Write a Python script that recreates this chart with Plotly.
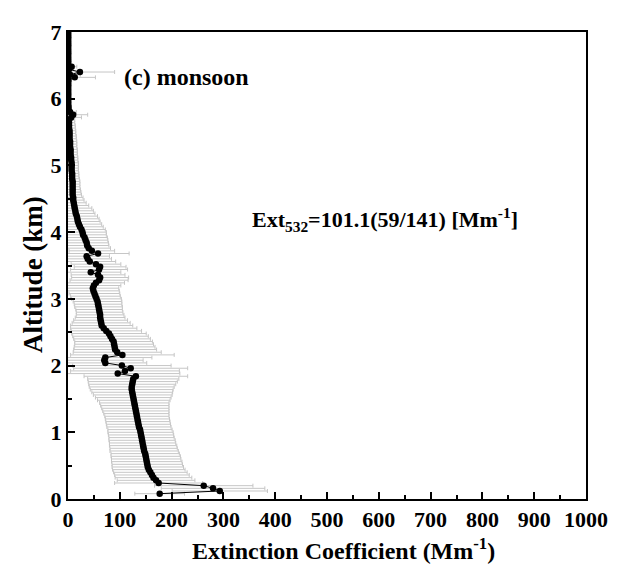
import plotly.graph_objects as go

# Altitude grid (km)
altitude_km = [
    0.08, 0.12, 0.16, 0.20, 0.24, 0.28, 0.32, 0.36, 0.40, 0.44,
    0.48, 0.52, 0.56, 0.60, 0.64, 0.68, 0.72, 0.76, 0.80, 0.84,
    0.88, 0.92, 0.96, 1.00, 1.04, 1.08, 1.12, 1.16, 1.20, 1.24,
    1.28, 1.32, 1.36, 1.40, 1.44, 1.48, 1.52, 1.56, 1.60, 1.64,
    1.68, 1.72, 1.76, 1.80, 1.84, 1.88, 1.92, 1.96, 2.00, 2.04,
    2.08, 2.12, 2.16, 2.20, 2.24, 2.28, 2.32, 2.36, 2.40, 2.44,
    2.48, 2.52, 2.56, 2.60, 2.64, 2.68, 2.72, 2.76, 2.80, 2.84,
    2.88, 2.92, 2.96, 3.00, 3.04, 3.08, 3.12, 3.16, 3.20, 3.24,
    3.28, 3.32, 3.36, 3.40, 3.44, 3.48, 3.52, 3.56, 3.60, 3.64,
    3.68, 3.72, 3.76, 3.80, 3.84, 3.88, 3.92, 3.96, 4.00, 4.04,
    4.08, 4.12, 4.16, 4.20, 4.24, 4.28, 4.32, 4.36, 4.40, 4.44,
    4.48, 4.52, 4.56, 4.60, 4.64, 4.68, 4.72, 4.76, 4.80, 4.84,
    4.88, 4.92, 4.96, 5.00, 5.04, 5.08, 5.12, 5.16, 5.20, 5.24,
    5.28, 5.32, 5.36, 5.40, 5.44, 5.48, 5.52, 5.56, 5.60, 5.64,
    5.68, 5.72, 5.76, 5.80, 5.84, 5.88, 5.92, 5.96, 6.00, 6.04,
    6.08, 6.12, 6.16, 6.20, 6.24, 6.28, 6.32, 6.36, 6.40, 6.44,
    6.48, 6.52, 6.56, 6.60, 6.64, 6.68, 6.72, 6.76, 6.80, 6.84,
    6.88, 6.92, 6.96, 7.00,
]

# Mean extinction coefficient (Mm^-1)
extinction = [
    177, 293, 280, 262, 175, 170, 165, 162, 159, 156,
    154, 153, 152, 151, 150, 149, 147, 146, 145, 144,
    143, 142, 141, 140, 139, 137, 136, 135, 134, 133,
    132, 131, 130, 129, 128, 127, 126, 125, 124, 123,
    123, 124, 125, 126, 131, 96, 110, 121, 104, 72,
    70, 72, 105, 95, 91, 90, 89, 88, 85, 82,
    79, 74, 69, 65, 64, 63, 62, 62, 61, 60,
    59, 58, 57, 55, 53, 51, 49, 48, 50, 54,
    60, 62, 58, 44, 60, 62, 54, 42, 38, 36,
    58, 46, 40, 37, 36, 34, 32, 29, 28, 26,
    23, 21, 19, 18, 17, 15, 14, 13, 12, 11,
    10, 10, 9, 9, 9, 9, 9, 9, 8, 8,
    8, 7, 7, 7, 7, 6, 6, 5, 5, 5,
    4, 4, 4, 3, 3, 3, 3, 2, 2, 2,
    2, 6, 10, 4, 1, 1, 0.5, 0.5, 0.5, 0.5,
    0.5, 0.5, 0.5, 0.5, 0.5, 1, 13, 4, 23, 2,
    7, 0.5, 0.5, 0.5, 0.5, 0.5, 0.5, 0.5, 0.5, 0.5,
    0.5, 0.5, 0.5, 0.5,
]

# Standard deviation (Mm^-1)
std_dev = [
    48, 92, 100, 95, 85, 75, 74, 72, 71, 70,
    69, 68, 68, 67, 67, 66, 66, 65, 65, 64,
    64, 63, 63, 63, 62, 62, 62, 62, 62, 62,
    63, 64, 65, 66, 67, 70, 73, 76, 78, 80,
    82, 84, 86, 88, 100, 120, 105, 110, 95, 80,
    75, 90, 100, 85, 80, 78, 76, 75, 74, 73,
    72, 68, 64, 60, 56, 52, 48, 46, 45, 45,
    46, 46, 47, 48, 48, 49, 50, 50, 52, 55,
    56, 55, 52, 58, 55, 50, 48, 50, 46, 44,
    60, 44, 42, 42, 42, 43, 44, 45, 46, 46,
    45, 44, 43, 42, 40, 37, 35, 33, 28, 24,
    21, 19, 17, 16, 15, 14, 14, 14, 14, 13,
    13, 13, 13, 13, 13, 13, 13, 13, 13, 13,
    13, 13, 13, 13, 13, 12, 12, 12, 12, 11,
    11, 20, 28, 12, 5, 4, 3, 3, 3, 3,
    3, 3, 3, 3, 3, 4, 40, 20, 67, 6,
    10, 3, 3, 3, 3, 3, 3, 3, 3, 3,
    3, 3, 3, 3,
]

FONT = "Liberation Serif"

fig = go.Figure()

# error bars (clipped to plot area)
fig.add_trace(go.Scatter(
    x=extinction, y=altitude_km, mode="markers",
    marker=dict(size=1, color="rgba(0,0,0,0)"),
    error_x=dict(type="data", array=std_dev, color="#c6c6c6",
                 thickness=1, width=2),
    showlegend=False, hoverinfo="skip",
))

# mean profile
fig.add_trace(go.Scatter(
    x=extinction, y=altitude_km, mode="lines+markers",
    marker=dict(size=6.5, color="black"),
    line=dict(color="black", width=1),
    showlegend=False,
))

fig.add_annotation(
    x=104, y=6.32, xref="x", yref="y", xanchor="left", yanchor="middle",
    text="<b>(c) monsoon</b>", showarrow=False,
    font=dict(family=FONT, size=24, color="black"),
)
fig.add_annotation(
    x=351, y=4.19, xref="x", yref="y", xanchor="left", yanchor="middle",
    text="<b>Ext<sub>532</sub>=101.1(59/141) [Mm<sup>-1</sup>]</b>",
    showarrow=False,
    font=dict(family=FONT, size=22, color="black"),
)
# axis titles
fig.add_annotation(
    x=0.531, y=-0.108, xref="paper", yref="paper",
    xanchor="center", yanchor="middle",
    text="<b>Extinction Coefficient (Mm<sup>-1</sup>)</b>", showarrow=False,
    font=dict(family=FONT, size=24, color="black"),
)
fig.add_annotation(
    x=-0.0676, y=0.482, xref="paper", yref="paper",
    xanchor="center", yanchor="middle", textangle=-90,
    text="<b>Altitude (km)</b>", showarrow=False,
    font=dict(family=FONT, size=27, color="black"),
)

axis_common = dict(
    showgrid=False, zeroline=False,
    showline=True, linecolor="black", linewidth=2, mirror=True,
    ticks="inside", tickcolor="black", tickwidth=2, ticklen=7,
    tickfont=dict(family=FONT, size=22, color="black", weight="bold"),
)

# The page body adds an 8px margin; the figure is sized to fit the window.
fig.update_layout(
    width=613, height=564,
    margin=dict(l=60, r=35, t=12, b=73),
    paper_bgcolor="white", plot_bgcolor="white",
    xaxis=dict(
        range=[0, 1000], dtick=100, tick0=0,
        minor=dict(dtick=50, ticks="inside", ticklen=4, tickwidth=1.5,
                   tickcolor="black"),
        **axis_common,
    ),
    yaxis=dict(
        range=[0, 7], dtick=1, tick0=0,
        minor=dict(dtick=0.5, ticks="inside", ticklen=4, tickwidth=1.5,
                   tickcolor="black"),
        **axis_common,
    ),
)

fig.write_html("out.html")
